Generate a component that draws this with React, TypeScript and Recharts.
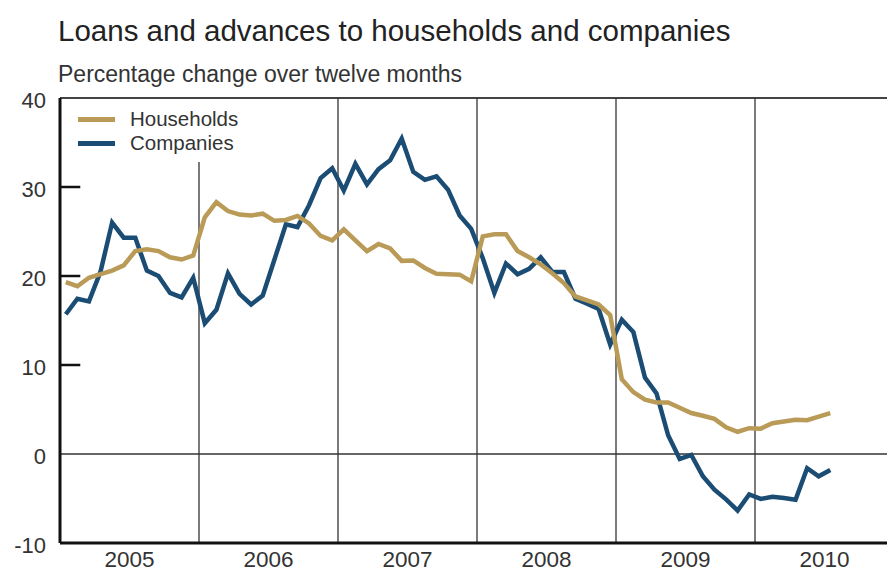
import { LineChart, Line, XAxis, YAxis, ReferenceLine } from "recharts";

const yearLabels = ["2005", "2006", "2007", "2008", "2009", "2010"];

// monthly, Jan 2005 - Jul 2010
const households = [
  19.3, 18.85, 19.8, 20.2, 20.6, 21.2, 22.8, 23.0, 22.8, 22.1, 21.85, 22.3,
  26.6, 28.3, 27.3, 26.9, 26.8, 27.0, 26.2, 26.3, 26.75, 25.9, 24.5, 24.0,
  25.25, 24.0, 22.8, 23.6, 23.1, 21.7, 21.75, 20.9, 20.25, 20.2, 20.15, 19.4,
  24.45, 24.7, 24.7, 22.8, 22.1, 21.3, 20.3, 19.2, 17.7, 17.25, 16.8, 15.6,
  8.4, 6.95, 6.1, 5.8, 5.8, 5.2, 4.6, 4.3, 3.95, 3.0, 2.5, 2.9,
  2.85, 3.45, 3.65, 3.85, 3.8, 4.2, 4.6,
];

const companies = [
  15.7, 17.45, 17.15, 20.5, 26.0, 24.3, 24.3, 20.6, 20.0, 18.1, 17.6, 19.8,
  14.7, 16.2, 20.3, 18.0, 16.8, 17.8, 21.8, 25.8, 25.5, 27.95, 31.0, 32.1,
  29.6, 32.6, 30.3, 32.0, 33.0, 35.45, 31.7, 30.8, 31.2, 29.7, 26.8, 25.3,
  22.0, 18.1, 21.4, 20.2, 20.8, 22.1, 20.45, 20.45, 17.45, 16.9, 16.3, 12.3,
  15.1, 13.7, 8.6, 6.8, 2.1, -0.55, -0.1, -2.5, -4.0, -5.1, -6.35, -4.55,
  -5.05, -4.8, -4.95, -5.15, -1.6, -2.5, -1.8,
];

const yTicks = [-10, 0, 10, 20, 30, 40];

const GOLD = "#b99a57";
const BLUE = "#1a4c74";
const FONT = "'Liberation Sans', Arial, sans-serif";

// month index placed at the middle of its month
const data = households.map((h, i) => ({ m: i + 0.5, households: h, companies: companies[i] }));

function LegendBox() {
  const items = [
    { label: "Households", color: GOLD },
    { label: "Companies", color: BLUE },
  ];
  return (
    <div style={{ position: "absolute", left: 78, top: 107, fontFamily: FONT }}>
      {items.map((it) => (
        <div key={it.label} style={{ display: "flex", alignItems: "center", height: 24 }}>
          <div style={{ width: 37, height: 5, background: it.color, marginRight: 15 }} />
          <span style={{ fontSize: 20.5, color: "#333" }}>{it.label}</span>
        </div>
      ))}
    </div>
  );
}

export default function App() {
  return (
    <div
      style={{
        position: "absolute",
        left: 0,
        top: 0,
        width: 887,
        height: 572,
        overflow: "hidden",
        background: "#fff",
        fontFamily: FONT,
      }}
    >
      <div style={{ position: "absolute", left: 58, top: 16, fontSize: 29.5, color: "#222", lineHeight: 1 }}>
        Loans and advances to households and companies
      </div>
      <div style={{ position: "absolute", left: 58, top: 63, fontSize: 23, color: "#333", lineHeight: 1 }}>
        Percentage change over twelve months
      </div>
      <LineChart width={900} height={572} data={data} margin={{ top: 98, right: 6, bottom: 0, left: 0 }}>
        <XAxis
          type="number"
          dataKey="m"
          domain={[0, 72]}
          ticks={[6, 18, 30, 42, 54, 66]}
          tickFormatter={(v: number) => yearLabels[Math.round((v - 6) / 12)]}
          axisLine={{ stroke: "#111", strokeWidth: 3 }}
          tickLine={false}
          tickSize={0}
          tickMargin={8}
          height={29}
          tick={{ fontSize: 22.5, fill: "#333", fontFamily: FONT }}
          allowDataOverflow
        />
        <YAxis
          type="number"
          domain={[-10, 40]}
          ticks={yTicks}
          axisLine={{ stroke: "#111", strokeWidth: 3 }}
          tickLine={false}
          tickSize={0}
          tickMargin={14}
          width={60}
          tick={{ fontSize: 22, fill: "#333", fontFamily: FONT, dy: 2 }}
          interval={0}
          allowDataOverflow
        />
        <ReferenceLine y={40} stroke="#444" strokeWidth={2} />
        <ReferenceLine y={0} stroke="#666" strokeWidth={2} />
        <ReferenceLine segment={[{ x: 12, y: -10 }, { x: 12, y: 32.8 }]} stroke="#333" strokeWidth={1.3} />
        {[24, 36, 48, 60].map((x) => (
          <ReferenceLine key={x} x={x} stroke="#333" strokeWidth={1.3} />
        ))}
        {[10, 20, 30].map((v) => (
          <ReferenceLine key={v} segment={[{ x: 0, y: v }, { x: 1.75, y: v }]} stroke="#111" strokeWidth={2.5} />
        ))}
        <Line
          type="linear"
          dataKey="companies"
          name="Companies"
          stroke={BLUE}
          strokeWidth={4.5}
          dot={false}
          isAnimationActive={false}
        />
        <Line
          type="linear"
          dataKey="households"
          name="Households"
          stroke={GOLD}
          strokeWidth={4.5}
          dot={false}
          isAnimationActive={false}
        />
      </LineChart>
      <LegendBox />
    </div>
  );
}
